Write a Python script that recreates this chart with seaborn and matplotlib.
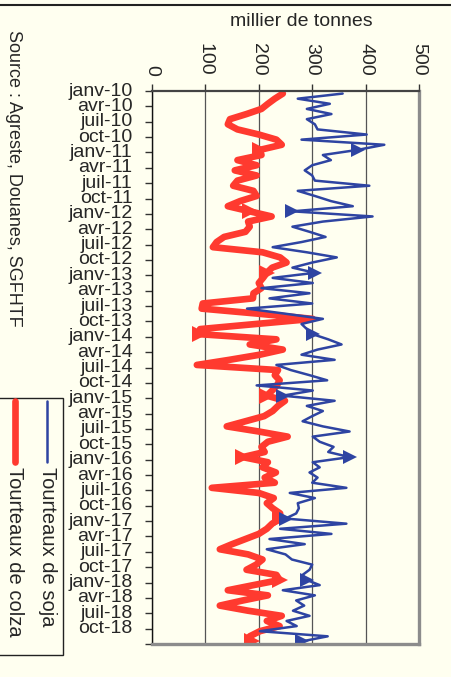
import numpy as np
import pandas as pd
import matplotlib
matplotlib.use('Agg')
import matplotlib.pyplot as plt
from matplotlib.lines import Line2D
from matplotlib.patches import Rectangle
import seaborn as sns

# Importations mensuelles, janv-10 -> déc-18 (millier de tonnes)
soja = [357, 273, 333, 290, 336, 290, 305, 310, 402, 280, 435, 385,
        320, 335, 300, 286, 300, 305, 407, 273, 305, 335, 376, 263,
        413, 320, 263, 295, 325, 280, 226, 290, 346, 300, 263, 305,
        226, 301, 205, 295, 220, 300, 178, 250, 320, 280, 290, 301,
        330, 355, 310, 280, 342, 233, 260, 295, 328, 196, 301, 245,
        342, 290, 320, 300, 282, 320, 370, 301, 314, 340, 330, 370,
        301, 314, 295, 310, 300, 364, 258, 305, 273, 275, 270, 250,
        364, 240, 336, 220, 286, 215, 250, 262, 300, 295, 282, 290,
        314, 245, 305, 270, 285, 264, 295, 252, 271, 202, 329, 280]

colza = [245, 230, 217, 205, 177, 146, 142, 160, 200, 233, 243, 202,
         205, 160, 196, 155, 196, 160, 152, 190, 196, 165, 142, 183,
         224, 180, 183, 175, 135, 121, 114, 207, 240, 252, 225, 215,
         208, 200, 205, 190, 189, 95, 93, 200, 301, 195, 90, 90,
         233, 183, 245, 202, 145, 84, 236, 230, 239, 234, 225, 215,
         249, 236, 226, 210, 175, 140, 200, 254, 217, 205, 211, 170,
         217, 207, 232, 211, 230, 112, 200, 228, 215, 226, 240, 240,
         225, 215, 200, 175, 150, 127, 180, 207, 195, 177, 233, 239,
         190, 142, 217, 170, 127, 180, 243, 215, 239, 202, 183, 187]

trimestres = ['janv', 'avr', 'juil', 'oct']
etiquettes = [f"{t}-{a}" for a in range(10, 19) for t in trimestres]

BLEU = '#2E44A2'
ROUGE = '#FF3A2F'
FOND = '#FFFFF0'

sns.set_style('white')
plt.rcParams['font.family'] = ['Liberation Sans', 'DejaVu Sans']

fig = plt.figure(figsize=(4.52, 6.77), dpi=100)
fig.patch.set_facecolor(FOND)
ax = fig.add_axes([152 / 452, 1 - 644 / 677, 267 / 452, 553 / 677])
ax.set_facecolor(FOND)

df = pd.DataFrame({'mois': np.arange(len(soja)) + 0.5, 'soja': soja, 'colza': colza})

# on trace la courbe de colza puis le soja par-dessus
sns.lineplot(data=df, x='colza', y='mois', orient='y', sort=False, estimator=None,
             color=ROUGE, lw=4.8, marker='>', markersize=11, markeredgewidth=0,
             markevery=slice(11, None, 12), legend=False, ax=ax)
sns.lineplot(data=df, x='soja', y='mois', orient='y', sort=False, estimator=None,
             color=BLEU, lw=1.8, marker='>', markersize=10, markeredgewidth=0,
             markevery=slice(11, None, 12), legend=False, ax=ax)

ax.set_xlim(0, 500)
ax.set_ylim(108, 0)
ax.set_xlabel('')
ax.set_ylabel('')

ax.xaxis.tick_top()
ax.set_xticks(range(0, 501, 100))
ax.set_xticklabels([str(v) for v in range(0, 501, 100)], rotation=270, fontsize=14)
ax.set_yticks(range(0, 109, 3))
ax.set_yticklabels(etiquettes + [''], fontsize=14)
ax.tick_params(axis='x', which='both', top=True, bottom=False, length=5, width=1,
               color='#333333', pad=6)
ax.tick_params(axis='y', which='both', left=True, length=5, width=1,
               color='#333333', pad=9)
for lab in ax.get_yticklabels():
    lab.set_verticalalignment('center')

ax.xaxis.grid(True, color='#555555', lw=0.9)
ax.yaxis.grid(False)
ax.set_axisbelow(True)

ax.spines['left'].set_color('#111111')
ax.spines['left'].set_linewidth(1.0)
ax.spines['top'].set_color('#444444')
ax.spines['top'].set_linewidth(1.6)
for c in ['right', 'bottom']:
    ax.spines[c].set_color('#8C8C8C')
    ax.spines[c].set_linewidth(2.4)
    ax.spines[c].set_visible(True)

# titre de l'axe et source
fig.text(301 / 452, 1 - 22 / 677, 'millier de tonnes', ha='center', va='center', fontsize=14)
fig.text(13 / 452, 1 - 30 / 677, 'Source : Agreste, Douanes, SGFHTF', rotation=270,
         ha='center', va='top', fontsize=13)

# trait noir en haut de la figure
fig.add_artist(Line2D([0, 1], [1 - 5 / 677, 1 - 5 / 677], color='#222222', lw=1.5,
                      transform=fig.transFigure))

# légende (texte vertical)
fig.add_artist(Rectangle((-0.01, 1 - 655 / 677), 0.01 + 63 / 452, (655 - 398) / 677,
                         transform=fig.transFigure, fill=False, ec='#222222', lw=1))
fig.add_artist(Line2D([47 / 452, 47 / 452], [1 - 401 / 677, 1 - 462 / 677], color=BLEU, lw=1.8,
                      transform=fig.transFigure))
fig.add_artist(Line2D([15 / 452, 15 / 452], [1 - 401 / 677, 1 - 462 / 677], color=ROUGE, lw=4.8,
                      transform=fig.transFigure))
fig.text(47 / 452, 1 - 467 / 677, 'Tourteaux de soja', rotation=270, ha='center', va='top', fontsize=14.5)
fig.text(14 / 452, 1 - 467 / 677, 'Tourteaux de colza', rotation=270, ha='center', va='top', fontsize=14.5)

plt.savefig('out.png', dpi=100, facecolor=FOND)
